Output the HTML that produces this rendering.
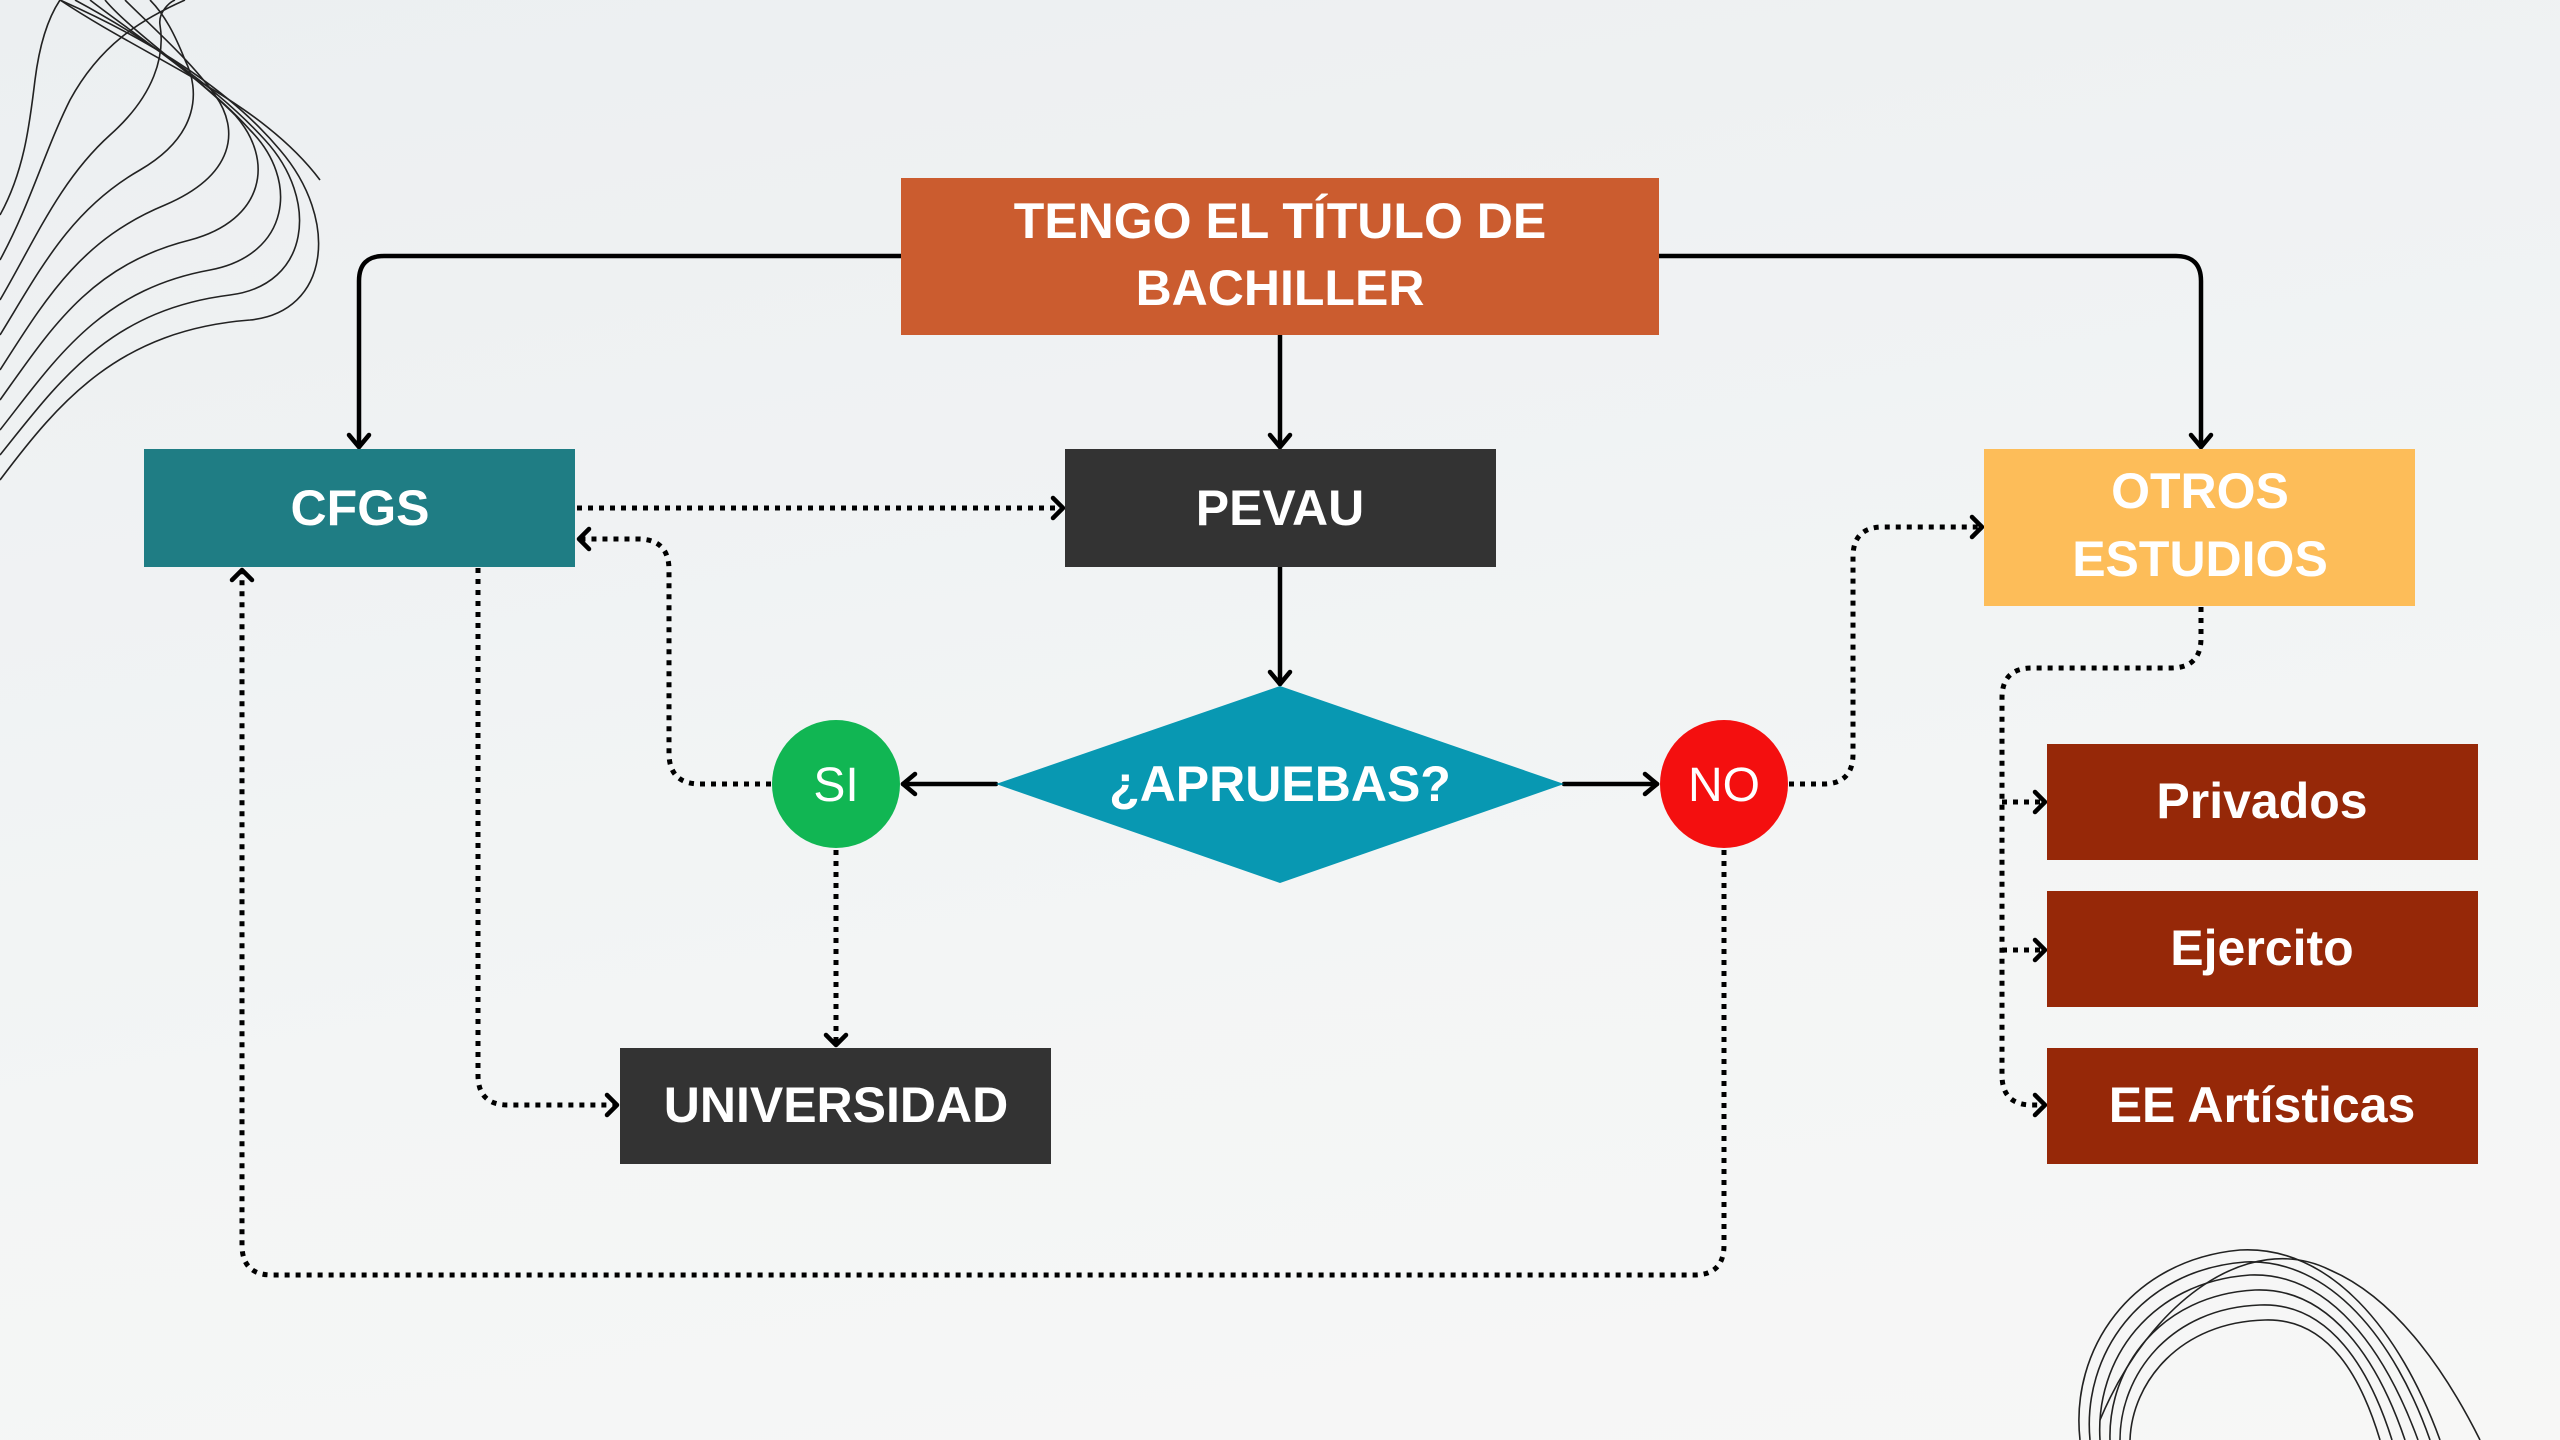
<!DOCTYPE html>
<html><head><meta charset="utf-8"><style>
html,body{margin:0;padding:0;}
body{width:2560px;height:1440px;overflow:hidden;background:linear-gradient(170deg,#eceff1 0%,#f3f5f5 60%,#f7f7f6 100%);font-family:"Liberation Sans",sans-serif;}
svg{position:absolute;left:0;top:0;}
text{font-family:"Liberation Sans",sans-serif;fill:#fff;}
</style></head><body>
<svg width="2560" height="1440" viewBox="0 0 2560 1440">
<defs>
<marker id="a" markerWidth="8" markerHeight="8" refX="6" refY="4" orient="auto" markerUnits="userSpaceOnUse" viewBox="0 0 8 8" >
</marker>
</defs>
<!-- decorations -->
<g fill="none" stroke="#222" stroke-width="1.6">
<path d="M0,480 C60,400 120,330 250,320 C330,312 340,220 280,150 C230,90 150,40 60,0"/>
<path d="M0,455 C60,380 110,310 230,295 C310,285 320,200 265,140 C215,85 140,35 75,0"/>
<path d="M0,430 C55,360 100,290 210,270 C290,255 300,180 250,130 C205,80 135,35 90,0"/>
<path d="M0,400 C50,330 90,265 190,240 C265,220 275,160 235,115 C195,75 130,30 105,0"/>
<path d="M0,370 C45,300 80,240 165,205 C235,175 240,130 215,95 C190,60 150,25 125,0"/>
<path d="M0,335 C40,270 70,210 140,170 C200,135 200,90 185,60 C175,35 165,15 150,0"/>
<path d="M0,300 C35,240 60,180 110,135 C155,95 165,55 160,25 C158,12 170,2 175,0"/>
<path d="M0,260 C30,205 45,150 70,100 C100,45 140,20 185,0"/>
<path d="M0,215 C25,170 30,120 35,80 C40,40 50,15 60,0"/>
<path d="M60,0 C150,60 260,100 320,180"/>
<path d="M2080,1440 C2070,1350 2130,1260 2240,1250 C2330,1245 2400,1330 2440,1440"/>
<path d="M2090,1440 C2082,1355 2140,1270 2245,1262 C2330,1258 2395,1340 2430,1440"/>
<path d="M2100,1440 C2095,1360 2150,1282 2250,1275 C2330,1272 2385,1350 2418,1440"/>
<path d="M2110,1440 C2108,1368 2160,1295 2255,1290 C2330,1287 2378,1360 2405,1440"/>
<path d="M2120,1440 C2120,1375 2170,1308 2260,1305 C2330,1302 2370,1370 2392,1440"/>
<path d="M2130,1440 C2132,1382 2180,1322 2265,1320 C2330,1318 2362,1380 2380,1440"/>
<path d="M2100,1420 C2150,1300 2250,1230 2330,1270 C2400,1300 2450,1380 2480,1440"/>
</g>
<!-- solid connectors -->
<g fill="none" stroke="#000" stroke-width="4.5" stroke-linejoin="round" stroke-linecap="round">
<path d="M901,256 H384 Q359,256 359,281 V447"/>
<path d="M1659,256 H2176 Q2201,256 2201,281 V447"/>
<path d="M1280,335 V447"/>
<path d="M1280,567 V684"/>
<path d="M996,784 H903"/>
<path d="M1564,784 H1657"/>
</g>
<g fill="none" stroke="#000" stroke-width="4.5" stroke-linecap="round" stroke-linejoin="round">
<path d="M349,435 L359,447 L369,435"/>
<path d="M2191,435 L2201,447 L2211,435"/>
<path d="M1270,435 L1280,447 L1290,435"/>
<path d="M1270,672 L1280,684 L1290,672"/>
<path d="M915,774 L903,784 L915,794"/>
<path d="M1645,774 L1657,784 L1645,794"/>
</g>
<!-- dotted connectors -->
<g fill="none" stroke="#000" stroke-width="5" stroke-dasharray="5 6">
<path d="M577,508 H1062"/>
<path d="M771,784 H700 Q669,784 669,753 V570 Q669,539 638,539 H580"/>
<path d="M836,850 V1045"/>
<path d="M478,568 V1075 Q478,1105 508,1105 H617"/>
<path d="M1724,850 V1245 Q1724,1275 1694,1275 H272 Q242,1275 242,1245 V572"/>
<path d="M1789,784 H1823 Q1853,784 1853,754 V557 Q1853,527 1883,527 H1981"/>
<path d="M2201,607 V638 Q2201,668 2171,668 H2032 Q2002,668 2002,698 V1075 Q2002,1105 2032,1105 H2044"/>
<path d="M2002,802 H2044"/>
<path d="M2002,950 H2044"/>
</g>
<g fill="none" stroke="#000" stroke-width="4.5" stroke-linecap="round" stroke-linejoin="round">
<path d="M1053,498 L1063,508 L1053,518"/>
<path d="M589,529 L579,539 L589,549"/>
<path d="M826,1035 L836,1045 L846,1035"/>
<path d="M607,1095 L617,1105 L607,1115"/>
<path d="M232,580 L242,570 L252,580"/>
<path d="M1972,517 L1982,527 L1972,537"/>
<path d="M2035,792 L2045,802 L2035,812"/>
<path d="M2035,940 L2045,950 L2035,960"/>
<path d="M2035,1095 L2045,1105 L2035,1115"/>
</g>
<!-- nodes -->
<rect x="901" y="178" width="758" height="157" fill="#cb5c2f"/>
<text x="1280" y="238" font-size="50" font-weight="bold" text-anchor="middle">TENGO EL TÍTULO DE</text>
<text x="1280" y="305" font-size="50" font-weight="bold" text-anchor="middle">BACHILLER</text>
<rect x="144" y="449" width="431" height="118" fill="#1f7d84"/>
<text x="360" y="525" font-size="50" font-weight="bold" text-anchor="middle">CFGS</text>
<rect x="1065" y="449" width="431" height="118" fill="#333333"/>
<text x="1280" y="525" font-size="50" font-weight="bold" text-anchor="middle">PEVAU</text>
<rect x="1984" y="449" width="431" height="157" fill="#fdbd59"/>
<text x="2200" y="508" font-size="50" font-weight="bold" text-anchor="middle">OTROS</text>
<text x="2200" y="576" font-size="50" font-weight="bold" text-anchor="middle">ESTUDIOS</text>
<polygon points="996,784 1280,686 1564,784 1280,883" fill="#0898b2"/>
<text x="1280" y="801" font-size="50" font-weight="bold" text-anchor="middle">¿APRUEBAS?</text>
<circle cx="836" cy="784" r="64" fill="#11b653"/>
<text x="836" y="801" font-size="48" text-anchor="middle">SI</text>
<circle cx="1724" cy="784" r="64" fill="#f40f0f"/>
<text x="1724" y="801" font-size="48" text-anchor="middle">NO</text>
<rect x="620" y="1048" width="431" height="116" fill="#333333"/>
<text x="836" y="1122" font-size="50" font-weight="bold" text-anchor="middle">UNIVERSIDAD</text>
<rect x="2047" y="744" width="431" height="116" fill="#962808"/>
<text x="2262" y="818" font-size="50" font-weight="bold" text-anchor="middle">Privados</text>
<rect x="2047" y="891" width="431" height="116" fill="#962808"/>
<text x="2262" y="965" font-size="50" font-weight="bold" text-anchor="middle">Ejercito</text>
<rect x="2047" y="1048" width="431" height="116" fill="#962808"/>
<text x="2262" y="1122" font-size="50" font-weight="bold" text-anchor="middle">EE Artísticas</text>
</svg>
</body></html>
